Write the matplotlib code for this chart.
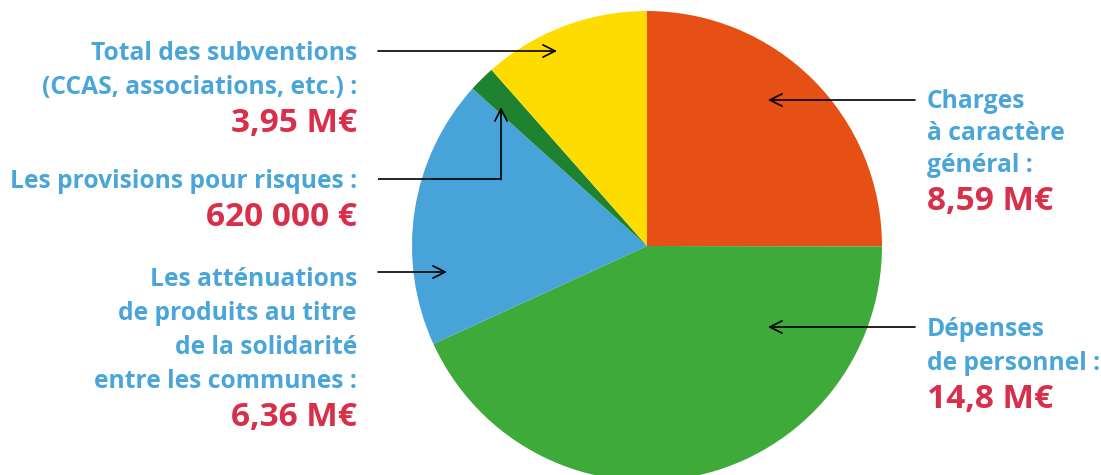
import matplotlib.pyplot as plt

plt.rcParams['font.family'] = ['Open Sans', 'DejaVu Sans']

# ============ data ============
labels = ["Charges à caractère général", "Dépenses de personnel",
          "Les atténuations de produits", "Les provisions pour risques",
          "Total des subventions"]
values = [8.59, 14.8, 6.36, 0.62, 3.95]  # M€
colors = ["#e65014", "#3eaa3a", "#48a3d8", "#1e8231", "#ffdc00"]

left_blocks = [
    (["Total des subventions", "(CCAS, associations, etc.) :"], "3,95 M€"),
    (["Les provisions pour risques :"], "620 000 €"),
    (["Les atténuations", "de produits au titre", "de la solidarité",
      "entre les communes :"], "6,36 M€"),
]
right_blocks = [
    (["Charges", "à caractère", "général :"], "8,59 M€"),
    (["Dépenses", "de personnel :"], "14,8 M€"),
]

BLUE = "#4aa6d9"
RED = "#d82f4a"
W, H = 1101, 475

fig = plt.figure(figsize=(W / 100, H / 100), dpi=100)
ax = fig.add_axes([0, 0, 1, 1])

ax.pie(values, colors=colors, startangle=90, counterclock=False,
       center=(647, H - 246), radius=235, frame=True,
       wedgeprops=dict(linewidth=0))
ax.set_xlim(0, W)
ax.set_ylim(0, H)
ax.set_aspect('equal')
ax.axis('off')


def Y(y):
    return H - y


def block(x, y0, lines, value, ha, step=34.5, vgap=36):
    # petit décalage : va='center' tient compte des jambages
    y = y0 + 2
    for ln in lines:
        ax.text(x, Y(y), ln, ha=ha, va='center', color=BLUE,
                fontsize=17.7, fontweight='bold')
        y += step
    ax.text(x, Y(y - step + vgap), value, ha=ha, va='center', color=RED,
            fontsize=24, fontweight='bold')


# left labels
block(357, 51, left_blocks[0][0], left_blocks[0][1], 'right')
block(357, 179, left_blocks[1][0], left_blocks[1][1], 'right')
block(357, 278, left_blocks[2][0], left_blocks[2][1], 'right', step=34)

# right labels
block(927, 100, right_blocks[0][0], right_blocks[0][1], 'left', step=31.5)
block(927, 328, right_blocks[1][0], right_blocks[1][1], 'left', step=33.5)

arrow = dict(arrowstyle='->', lw=1.2, color='black', mutation_scale=22,
             shrinkA=0, shrinkB=0)

ax.annotate('', xy=(557, Y(51)), xytext=(378, Y(51)), arrowprops=arrow)
ax.plot([378, 501], [Y(179), Y(179)], color='black', lw=1.2,
        solid_capstyle='butt')
ax.annotate('', xy=(501, Y(107)), xytext=(501, Y(179.6)), arrowprops=arrow)
ax.annotate('', xy=(447, Y(272)), xytext=(378, Y(272)), arrowprops=arrow)
ax.annotate('', xy=(768, Y(100)), xytext=(915, Y(100)), arrowprops=arrow)
ax.annotate('', xy=(768, Y(327)), xytext=(915, Y(327)), arrowprops=arrow)

fig.savefig("out.png", dpi=100)
